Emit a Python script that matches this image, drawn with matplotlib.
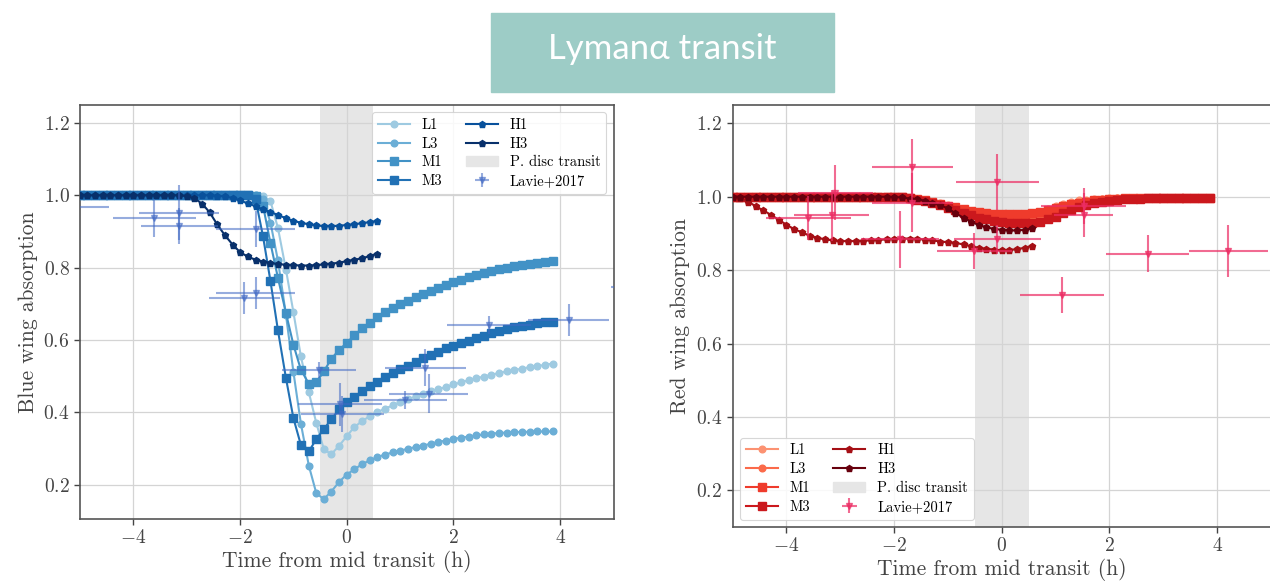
import matplotlib
matplotlib.use('Agg')
import matplotlib.pyplot as plt
from matplotlib.patches import Patch, Rectangle

plt.rcParams['font.family'] = 'serif'
plt.rcParams['font.serif'] = ['cmr10']
plt.rcParams['mathtext.fontset'] = 'cm'
plt.rcParams['axes.formatter.use_mathtext'] = True
plt.rcParams['axes.unicode_minus'] = True

# time grid of the simulations (h)
T = [-5.00, -4.86, -4.71, -4.57, -4.43, -4.29, -4.14, -4.00, -3.86, -3.71,
     -3.57, -3.43, -3.29, -3.14, -3.00, -2.86, -2.71, -2.57, -2.43, -2.29,
     -2.14, -2.00, -1.86, -1.71, -1.57, -1.43, -1.29, -1.14, -1.00, -0.86,
     -0.71, -0.57, -0.43, -0.29, -0.14, 0.00, 0.14, 0.29, 0.43, 0.57,
     0.71, 0.86, 1.00, 1.14, 1.29, 1.43, 1.57, 1.71, 1.86, 2.00,
     2.14, 2.29, 2.43, 2.57, 2.71, 2.86, 3.00, 3.14, 3.29, 3.43,
     3.57, 3.71, 3.86]
T_H = T[:40]  # H runs stop earlier

# blue wing models
blue_L1 = [1.0, 1.0, 1.0, 1.0, 1.0, 1.0, 1.0, 1.0, 1.0, 1.0, 1.0, 1.0,
           1.0, 1.0, 1.0, 1.0, 1.0, 1.0, 1.0, 1.0, 1.0, 1.0, 1.0, 1.0,
           0.997, 0.984, 0.910, 0.795, 0.677, 0.555, 0.455, 0.370, 0.298,
           0.284, 0.308, 0.334, 0.359, 0.376, 0.389, 0.400, 0.410, 0.419,
           0.428, 0.436, 0.444, 0.451, 0.458, 0.464, 0.470, 0.477, 0.483,
           0.489, 0.494, 0.499, 0.504, 0.509, 0.513, 0.517, 0.521, 0.525,
           0.528, 0.531, 0.535]
blue_L3 = [1.0, 1.0, 1.0, 1.0, 1.0, 1.0, 1.0, 1.0, 1.0, 1.0, 1.0, 1.0,
           1.0, 1.0, 1.0, 1.0, 1.0, 1.0, 1.0, 1.0, 1.0, 1.0, 1.0, 1.0,
           0.990, 0.925, 0.820, 0.670, 0.512, 0.369, 0.252, 0.176, 0.160,
           0.181, 0.208, 0.228, 0.242, 0.257, 0.267, 0.276, 0.283, 0.289,
           0.294, 0.299, 0.304, 0.308, 0.313, 0.318, 0.322, 0.326, 0.330,
           0.333, 0.336, 0.339, 0.341, 0.343, 0.344, 0.345, 0.346, 0.346,
           0.347, 0.347, 0.347]
blue_M1 = [1.0, 1.0, 1.0, 1.0, 1.0, 1.0, 1.0, 1.0, 1.0, 1.0, 1.0, 1.0,
           1.0, 1.0, 1.0, 1.0, 1.0, 1.0, 1.0, 1.0, 1.0, 1.0, 1.0,
           0.998, 0.972, 0.868, 0.772, 0.675, 0.587, 0.518, 0.479, 0.483,
           0.513, 0.548, 0.573, 0.592, 0.613, 0.632, 0.648, 0.663, 0.677,
           0.688, 0.699, 0.709, 0.719, 0.727, 0.735, 0.743, 0.751, 0.760,
           0.767, 0.774, 0.780, 0.786, 0.791, 0.796, 0.800, 0.804, 0.808,
           0.811, 0.814, 0.816, 0.818]
blue_M3 = [1.0, 1.0, 1.0, 1.0, 1.0, 1.0, 1.0, 1.0, 1.0, 1.0, 1.0, 1.0,
           1.0, 1.0, 1.0, 1.0, 1.0, 1.0, 1.0, 1.0, 1.0, 1.0, 1.0,
           0.990, 0.887, 0.763, 0.627, 0.495, 0.384, 0.310, 0.292, 0.326,
           0.353, 0.381, 0.408, 0.428, 0.443, 0.458, 0.472, 0.485, 0.498,
           0.509, 0.519, 0.529, 0.540, 0.549, 0.558, 0.568, 0.577, 0.584,
           0.591, 0.598, 0.605, 0.612, 0.619, 0.625, 0.631, 0.635, 0.639,
           0.642, 0.646, 0.649, 0.651]
blue_H1 = [1.0, 1.0, 1.0, 1.0, 1.0, 1.0, 1.0, 1.0, 1.0, 1.0, 1.0, 1.0,
           1.0, 1.0, 1.0, 1.0, 1.0, 1.0,
           0.999, 0.997, 0.993, 0.986, 0.978, 0.970, 0.961, 0.954, 0.946,
           0.937, 0.930, 0.924, 0.920, 0.917, 0.915, 0.915, 0.916, 0.918,
           0.920, 0.923, 0.926, 0.929]
blue_H3 = [1.0, 1.0, 1.0, 1.0, 1.0, 1.0, 1.0, 1.0, 1.0, 1.0, 1.0, 1.0,
           1.0, 1.0,
           0.998, 0.992, 0.977, 0.953, 0.920, 0.891, 0.864, 0.843, 0.831,
           0.822, 0.817, 0.813, 0.810, 0.808, 0.807, 0.806, 0.806, 0.807,
           0.809, 0.811, 0.814, 0.818, 0.822, 0.826, 0.832, 0.839]

# red wing models
red_L1 = [1.0, 1.0, 1.0, 1.0, 1.0, 1.0, 1.0, 1.0, 1.0, 1.0, 1.0, 1.0,
          1.0, 1.0, 1.0, 1.0, 1.0, 1.0, 1.0, 1.0, 1.0, 1.0,
          0.999, 0.997, 0.994, 0.991, 0.987, 0.982, 0.977, 0.972, 0.966,
          0.961, 0.956, 0.952, 0.948, 0.946, 0.945, 0.945, 0.947, 0.952,
          0.959, 0.967, 0.975, 0.981, 0.986, 0.990, 0.992, 0.994, 0.995,
          0.996, 0.997, 0.997, 0.997, 0.997, 0.997, 0.997, 0.997, 0.997,
          0.997, 0.997, 0.997, 0.997, 0.997]
red_L3 = [1.0, 1.0, 1.0, 1.0, 1.0, 1.0, 1.0, 1.0, 1.0, 1.0, 1.0, 1.0,
          1.0, 1.0, 1.0, 1.0, 1.0, 1.0, 1.0, 1.0, 1.0, 1.0,
          0.998, 0.996, 0.993, 0.989, 0.984, 0.978, 0.972, 0.966, 0.960,
          0.954, 0.949, 0.945, 0.941, 0.939, 0.937, 0.937, 0.938, 0.942,
          0.948, 0.956, 0.964, 0.972, 0.979, 0.984, 0.988, 0.991, 0.993,
          0.995, 0.996, 0.997, 0.997, 0.997, 0.997, 0.997, 0.997, 0.997,
          0.997, 0.997, 0.997, 0.997, 0.997]
red_M1 = [1.0, 1.0, 1.0, 1.0, 1.0, 1.0, 1.0, 1.0, 1.0, 1.0, 1.0, 1.0,
          1.0, 1.0, 1.0, 1.0, 1.0, 1.0, 1.0, 1.0, 1.0, 1.0,
          0.998, 0.996, 0.993, 0.990, 0.986, 0.981, 0.976, 0.971, 0.966,
          0.962, 0.958, 0.956, 0.954, 0.953, 0.953, 0.953, 0.954, 0.955,
          0.958, 0.963, 0.968, 0.974, 0.979, 0.983, 0.987, 0.990, 0.992,
          0.994, 0.995, 0.996, 0.997, 0.997, 0.997, 0.997, 0.997, 0.997,
          0.997, 0.997, 0.997, 0.997, 0.997]
red_M3 = [1.0, 1.0, 1.0, 1.0, 1.0, 1.0, 1.0, 1.0, 1.0, 1.0, 1.0, 1.0,
          1.0, 1.0, 1.0, 1.0, 1.0, 1.0, 1.0, 1.0, 1.0, 1.0,
          0.998, 0.996, 0.992, 0.988, 0.983, 0.977, 0.970, 0.963, 0.956,
          0.949, 0.943, 0.938, 0.934, 0.931, 0.929, 0.928, 0.928, 0.929,
          0.932, 0.938, 0.946, 0.955, 0.963, 0.971, 0.977, 0.982, 0.986,
          0.989, 0.991, 0.993, 0.994, 0.995, 0.996, 0.996, 0.997, 0.997,
          0.997, 0.997, 0.997, 0.997, 0.997]
red_H1 = [1.0, 0.996, 0.987, 0.974, 0.963, 0.951, 0.937, 0.924, 0.912,
          0.903, 0.894, 0.888, 0.884, 0.881, 0.879, 0.879, 0.879, 0.880,
          0.881, 0.882, 0.884, 0.885, 0.886, 0.886, 0.885, 0.883, 0.881,
          0.878, 0.876, 0.874, 0.870, 0.865, 0.861, 0.858, 0.856, 0.854,
          0.855, 0.857, 0.861, 0.867]
red_H3 = [1.0, 1.0, 1.0, 1.0, 1.0, 1.0, 1.0, 1.0, 1.0, 1.0, 1.0, 1.0,
          1.0, 1.0, 1.0, 1.0, 1.0, 1.0, 1.0, 1.0, 1.0,
          0.999, 0.998, 0.995, 0.993, 0.989, 0.983, 0.977, 0.968, 0.955,
          0.943, 0.932, 0.923, 0.917, 0.912, 0.910, 0.908, 0.908, 0.910,
          0.914]

# Lavie+2017 measurements
obs_blue_t = [-5.30, -3.61, -3.14, -3.14, -1.71, -1.92, -1.71, -0.52,
              -0.12, -0.08, 1.10, 1.47, 1.54, 2.66, 4.16, 5.75]
obs_blue_y = [0.968, 0.938, 0.952, 0.915, 0.906, 0.716, 0.730, 0.517,
              0.422, 0.396, 0.433, 0.524, 0.452, 0.642, 0.656, 0.748]
obs_blue_terr = [0.85, 0.78, 0.75, 0.72, 0.74, 0.66, 0.74, 0.70,
                 0.79, 0.77, 0.78, 0.76, 0.74, 0.79, 0.76, 0.80]
obs_blue_yerr = [0.03, 0.053, 0.076, 0.05, 0.05, 0.045, 0.045, 0.022,
                 0.06, 0.05, 0.025, 0.05, 0.055, 0.025, 0.045, 0.03]

obs_red_t = [-3.59, -3.16, -3.09, -1.66, -1.66, -1.89, -0.08, -0.08,
             -0.51, 1.11, 1.52, 1.52, 2.71, 4.21]
obs_red_y = [0.943, 0.949, 1.011, 1.081, 0.984, 0.884, 1.040, 0.884,
             0.852, 0.732, 0.975, 0.950, 0.845, 0.852]
obs_red_terr = [0.79, 0.69, 0.70, 0.75, 0.75, 0.72, 0.77, 0.80,
                0.70, 0.78, 0.79, 0.55, 0.77, 0.73]
obs_red_yerr = [0.06, 0.07, 0.075, 0.075, 0.08, 0.078, 0.077, 0.04,
                0.05, 0.048, 0.05, 0.06, 0.05, 0.07]

LABELS = ['L1', 'L3', 'M1', 'M3', 'H1', 'H3']
MARKERS = ['o', 'o', 's', 's', 'p', 'p']
MSIZES = [4.8, 4.8, 5.2, 5.2, 4.8, 4.8]
BLUES = ['#9ecae1', '#6baed6', '#4292c6', '#2171b5', '#08519c', '#08306b']
REDS = ['#fc9272', '#fb6a4a', '#ef3b2c', '#cb181d', '#a50f15', '#67000d']

W, H = 1270, 581
fig = plt.figure(figsize=(W / 100, H / 100), dpi=100)

# slide title banner
fig.patches.append(Rectangle((491 / W, 1 - 92 / H), 343 / W, 79 / H,
                             transform=fig.transFigure, color='#9dccc6',
                             zorder=0))
fig.text(662 / W, 1 - 49 / H, 'Lymanα transit', ha='center', va='center',
         color='white', fontsize=25, family=['Lato', 'Open Sans', 'DejaVu Sans'])

ax1 = fig.add_axes([80 / W, (H - 519) / H, 533.5 / W, 414 / H])
ax2 = fig.add_axes([732.5 / W, (H - 527) / H, 538.5 / W, 422 / H])


def draw_panel(ax, models, colors, obs, obs_color, obs_alpha, ylabel, legend_loc):
    handles = []
    for lab, ys, col, mk, ms in zip(LABELS, models, colors, MARKERS, MSIZES):
        tt = T if len(ys) == len(T) else T_H
        ln, = ax.plot(tt, ys, color=col, marker=mk, ms=ms, lw=1.5, label=lab,
                      zorder=3)
        handles.append(ln)
    ax.axvspan(-0.5, 0.5, color='#e6e6e6', lw=0, zorder=0)
    handles.append(Patch(color='#e6e6e6', label='P. disc transit'))
    t, y, terr, yerr = obs
    eb = ax.errorbar(t, y, xerr=terr, yerr=yerr, fmt='v', ms=4,
                     color=obs_color, ecolor=obs_color, elinewidth=1.5,
                     alpha=obs_alpha, capsize=0, zorder=4, label='Lavie+2017')
    handles.append(eb)

    ax.set_xlim(-5, 5)
    ax.set_xticks([-4, -2, 0, 2, 4])
    ax.set_yticks([0.2, 0.4, 0.6, 0.8, 1.0, 1.2])
    ax.grid(True, color='#d4d4d4', lw=0.9)
    ax.set_axisbelow(True)
    for sp in ax.spines.values():
        sp.set_color('#555555')
        sp.set_linewidth(1.2)
    ax.tick_params(labelsize=14, colors='#444444', length=4, width=1)
    ax.set_xlabel('Time from mid transit (h)', fontsize=15.5, color='#444444',
                  labelpad=2)
    ax.set_ylabel(ylabel, fontsize=15.5, color='#444444')
    leg = ax.legend(handles, [h.get_label() for h in handles], ncol=2,
                    loc=legend_loc, fontsize=10.5, handlelength=2.2,
                    labelspacing=0.35, columnspacing=1.6, framealpha=0.85,
                    edgecolor='#d0d0d0', borderpad=0.4)
    leg.get_frame().set_linewidth(0.8)


draw_panel(ax1, [blue_L1, blue_L3, blue_M1, blue_M3, blue_H1, blue_H3], BLUES,
           (obs_blue_t, obs_blue_y, obs_blue_terr, obs_blue_yerr),
           '#4169c4', 0.55, 'Blue wing absorption', 'upper right')
ax1.set_ylim(0.105, 1.25)

draw_panel(ax2, [red_L1, red_L3, red_M1, red_M3, red_H1, red_H3], REDS,
           (obs_red_t, obs_red_y, obs_red_terr, obs_red_yerr),
           '#ec2d64', 0.7, 'Red wing absorption', 'lower left')
ax2.set_ylim(0.10, 1.25)

fig.savefig('out.png', dpi=100)
